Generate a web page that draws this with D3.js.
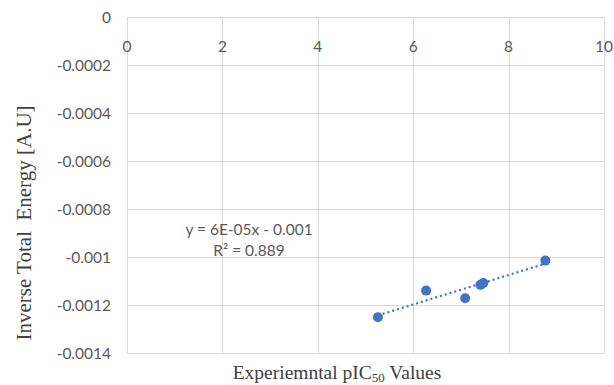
<!DOCTYPE html>
<html>
<head>
<meta charset="utf-8">
<script src="https://cdn.jsdelivr.net/npm/d3@7"></script>
<style>
  body { margin: 0; background: #fff; }
  svg { display: block; }
</style>
</head>
<body>
<svg id="chart" width="614" height="385"></svg>
<script>
// data
var pic50 = [5.26, 6.27, 7.09, 7.41, 7.47, 8.77];
var energy = [-0.001251, -0.00114, -0.001172, -0.001116, -0.001108, -0.001015];
var xTicks = [0, 2, 4, 6, 8, 10];
var yTicks = [0, -0.0002, -0.0004, -0.0006, -0.0008, -0.001, -0.0012, -0.0014];
var eqLines = ['y = 6E-05x - 0.001', 'R\u00b2 = 0.889'];

var svg = d3.select('#chart');
var margin = { left: 127, right: 10, top: 17, bottom: 32 };
var w = 614 - margin.left - margin.right;
var h = 385 - margin.top - margin.bottom;

var x = d3.scaleLinear().domain([0, 10]).range([margin.left, margin.left + w]);
var y = d3.scaleLinear().domain([-0.0014, 0]).range([margin.top + h, margin.top]);

var labelFont = 'Lato, "Open Sans", sans-serif';
var grid = svg.append('g');

// horizontal grid lines
grid.selectAll('line.h')
  .data(yTicks)
  .enter().append('line')
  .attr('class', 'h')
  .attr('x1', x(0)).attr('x2', x(10))
  .attr('y1', function(d) { return Math.round(y(d)) + 0.5; })
  .attr('y2', function(d) { return Math.round(y(d)) + 0.5; })
  .attr('stroke', '#d9d9d9').attr('stroke-width', 1);

// vertical grid lines
grid.selectAll('line.v')
  .data(xTicks)
  .enter().append('line')
  .attr('class', 'v')
  .attr('y1', y(0)).attr('y2', y(-0.0014))
  .attr('x1', function(d) { return Math.round(x(d)) + 0.5; })
  .attr('x2', function(d) { return Math.round(x(d)) + 0.5; })
  .attr('stroke', '#d9d9d9').attr('stroke-width', 1);

// y tick labels
svg.append('g').selectAll('text')
  .data(yTicks)
  .enter().append('text')
  .attr('x', x(0) - 16)
  .attr('y', function(d) { return y(d); })
  .attr('dy', '0.38em')
  .attr('text-anchor', 'end')
  .attr('font-family', labelFont)
  .attr('font-size', 15.5)
  .attr('fill', '#595959')
  .text(function(d) { return d === 0 ? '0' : String(+d.toFixed(4)); });

// x tick labels sit just under the zero line
svg.append('g').selectAll('text')
  .data(xTicks)
  .enter().append('text')
  .attr('x', function(d) { return x(d); })
  .attr('y', y(0) + 35)
  .attr('text-anchor', 'middle')
  .attr('font-family', labelFont)
  .attr('font-size', 15.5)
  .attr('fill', '#595959')
  .text(function(d) { return d; });

// linear trend line
var pts = pic50.map(function(d, i) { return [d, energy[i]]; });
var mx = d3.mean(pic50), my = d3.mean(energy);
var sxy = d3.sum(pts, function(p) { return (p[0] - mx) * (p[1] - my); });
var sxx = d3.sum(pts, function(p) { return (p[0] - mx) * (p[0] - mx); });
var slope = sxy / sxx, icpt = my - slope * mx;
var xr = d3.extent(pic50);

svg.append('line')
  .attr('x1', x(xr[0])).attr('y1', y(icpt + slope * xr[0]))
  .attr('x2', x(xr[1])).attr('y2', y(icpt + slope * xr[1]))
  .attr('stroke', '#4472c4')
  .attr('stroke-width', 2.2)
  .attr('stroke-dasharray', '2,3');

// points
svg.append('g').selectAll('circle')
  .data(pts)
  .enter().append('circle')
  .attr('cx', function(d) { return x(d[0]); })
  .attr('cy', function(d) { return y(d[1]); })
  .attr('r', 5)
  .attr('fill', '#4472c4');

// equation label
svg.append('g').selectAll('text')
  .data(eqLines)
  .enter().append('text')
  .attr('x', 249)
  .attr('y', function(d, i) { return 235 + i * 21; })
  .attr('text-anchor', 'middle')
  .attr('font-family', labelFont)
  .attr('font-size', 15.5)
  .attr('fill', '#595959')
  .text(function(d) { return d; });

// axis titles
var xt = svg.append('text')
  .attr('x', 337)
  .attr('y', 379)
  .attr('text-anchor', 'middle')
  .attr('font-family', '"Liberation Serif", serif')
  .attr('font-size', 19.5)
  .attr('fill', '#404040');
xt.append('tspan').text('Experiemntal pIC');
xt.append('tspan').attr('font-size', 13).attr('dy', 3).text('50');
xt.append('tspan').attr('dy', -3).text(' Values');

svg.append('text')
  .attr('transform', 'translate(31,223) rotate(-90)')
  .attr('text-anchor', 'middle')
  .attr('font-family', '"Liberation Serif", serif')
  .attr('font-size', 21)
  .attr('fill', '#404040')
  .attr('xml:space', 'preserve')
  .style('white-space', 'pre')
  .text('Inverse Total  Energy [A.U]');
</script>
</body>
</html>
